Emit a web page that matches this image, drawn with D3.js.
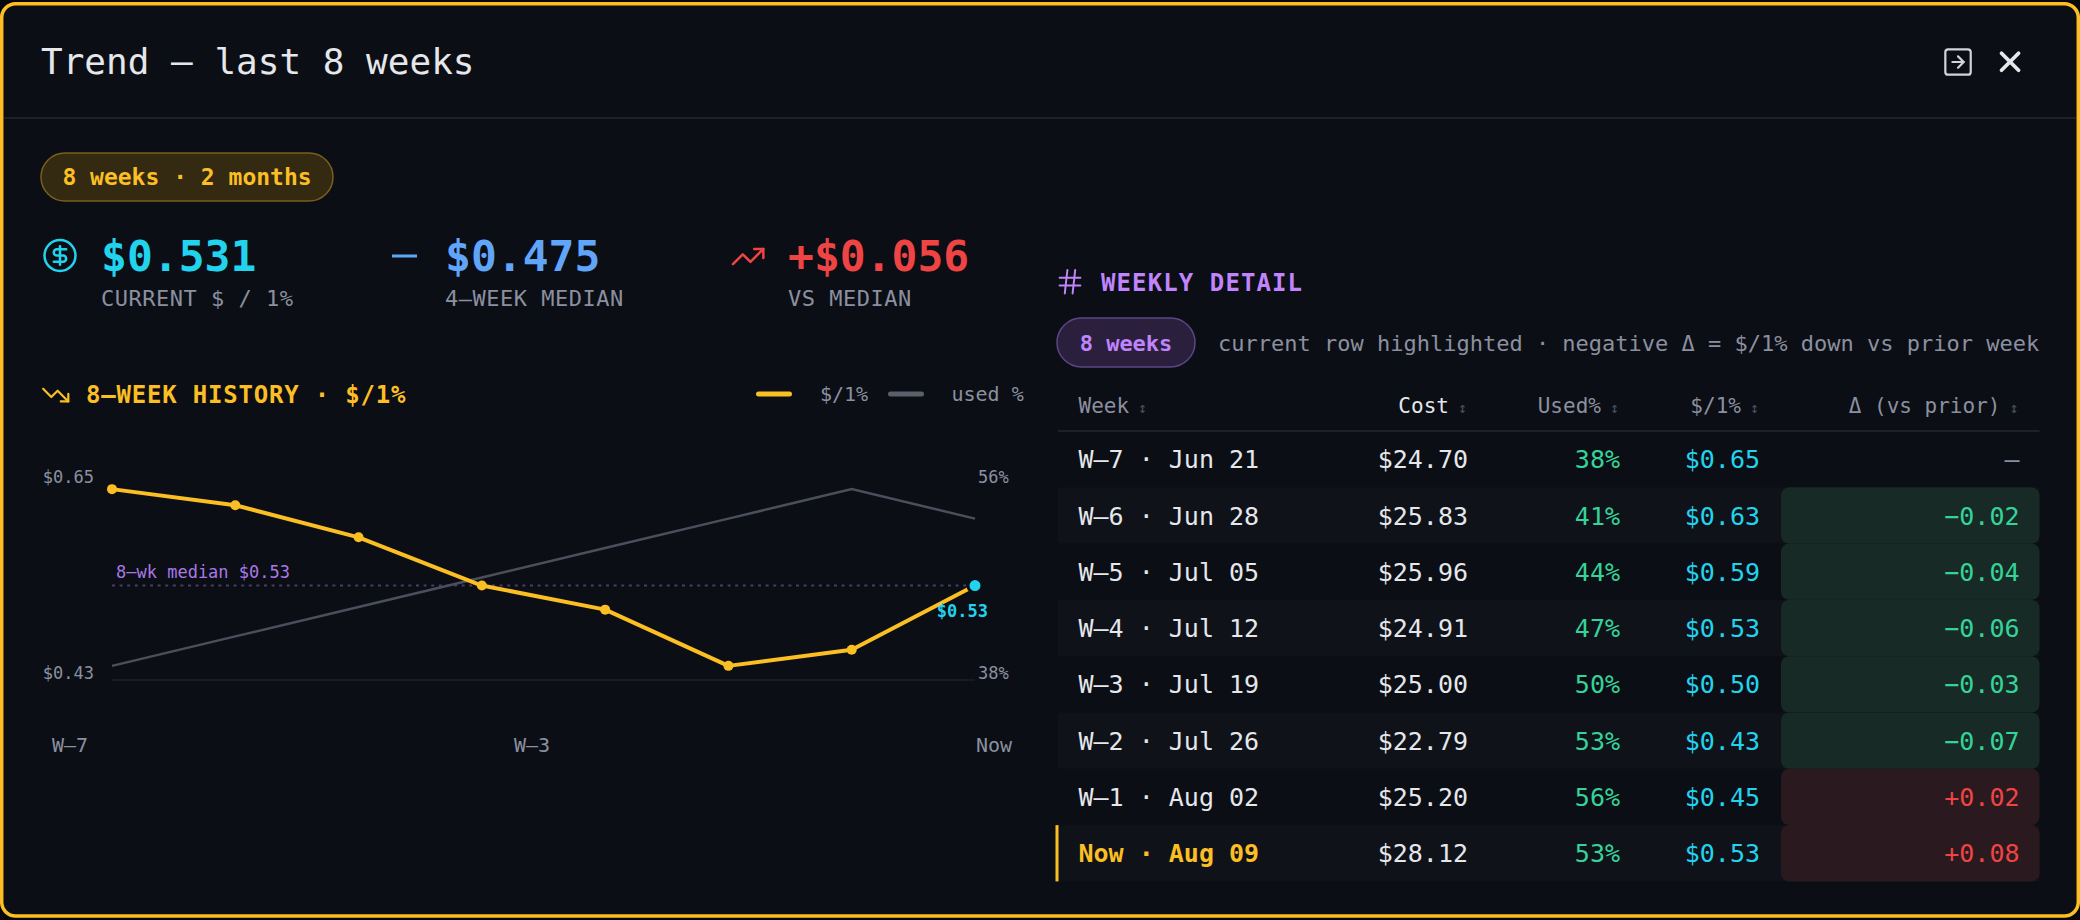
<!DOCTYPE html>
<html>
<head>
<meta charset="utf-8">
<script src="https://cdn.jsdelivr.net/npm/d3@7"></script>
<style>
  html, body { margin: 0; padding: 0; background: #05070a; }
  svg { display: block; font-family: "DejaVu Sans Mono", monospace; }
</style>
</head>
<body>
<div id="chart"></div>
<script>
// data
const weeks = ["W–7", "W–6", "W–5", "W–4", "W–3", "W–2", "W–1", "Now"];
const dates = ["Jun 21", "Jun 28", "Jul 05", "Jul 12", "Jul 19", "Jul 26", "Aug 02", "Aug 09"];
const costs = [24.70, 25.83, 25.96, 24.91, 25.00, 22.79, 25.20, 28.12];
const usedPct = [38, 41, 44, 47, 50, 53, 56, 53];
const perPct = [0.65, 0.63, 0.59, 0.53, 0.50, 0.43, 0.45, 0.53];
const deltas = [null, -0.02, -0.04, -0.06, -0.03, -0.07, 0.02, 0.08];
const xTickLabels = ["W–7", "W–3", "Now"];
const kpiValues = [0.531, 0.475, 0.056];
const kpiLabels = ["CURRENT $ / 1%", "4–WEEK MEDIAN", "VS MEDIAN"];
const headers = ["Week", "Cost", "Used%", "$/1%", "Δ (vs prior)"];

const W = 2080, H = 920;
const C = {
  bg: "#0b0e14", line: "#1d2028", text: "#e5e7eb", muted: "#8b90a0",
  yellow: "#fbbf24", cyan: "#22d3ee", blue: "#60a5fa", red: "#ef4444",
  green: "#34d399", purple: "#c084fc", gray: "#4b4f5c"
};

const svg = d3.select("#chart").append("svg")
  .attr("width", W).attr("height", H);

// text helper, y is the visual centre of capitals
function txt(g, x, y, s, o = {}) {
  const size = o.size || 20;
  return g.append("text")
    .attr("x", x).attr("y", y + size * 0.365)
    .attr("font-size", size)
    .attr("font-weight", o.weight || "normal")
    .attr("fill", o.fill || C.text)
    .attr("text-anchor", o.anchor || "start")
    .attr("letter-spacing", o.ls || 0)
    .text(s);
}

function icon(g, x, y, k, sw, color, draw) {
  const ig = g.append("g")
    .attr("transform", `translate(${x},${y}) scale(${k})`)
    .attr("fill", "none").attr("stroke", color)
    .attr("stroke-width", sw / k)
    .attr("stroke-linecap", "round").attr("stroke-linejoin", "round");
  draw(ig);
}

// card
svg.append("rect")
  .attr("x", 1.7).attr("y", 3.7).attr("width", W - 3.4).attr("height", 912.3)
  .attr("rx", 14).attr("fill", C.bg)
  .attr("stroke", C.yellow).attr("stroke-width", 3.5);

// header
txt(svg, 41, 61, "Trend — last 8 weeks", { size: 36, fill: C.text });
svg.append("line").attr("x1", 4).attr("x2", W - 4).attr("y1", 118).attr("y2", 118)
  .attr("stroke", C.line).attr("stroke-width", 2);

icon(svg, 1941.1, 45.1, 1.41, 2.2, "#d1d5db", g => {
  g.append("rect").attr("x", 3).attr("y", 3).attr("width", 18).attr("height", 18).attr("rx", 2);
  g.append("path").attr("d", "M8 12h8");
  g.append("path").attr("d", "m12 16 4-4-4-4");
});
icon(svg, 1993, 44.7, 1.42, 3.8, "#e5e7eb", g => {
  g.append("path").attr("d", "M18 6 6 18");
  g.append("path").attr("d", "m6 6 12 12");
});

// range badge
const badge = svg.append("g");
badge.append("rect").attr("x", 41).attr("y", 153).attr("width", 292).attr("height", 48)
  .attr("rx", 24).attr("fill", "#342a12").attr("stroke", "#7a5f1c").attr("stroke-width", 1.5);
txt(badge, 187, 177, "8 weeks · 2 months", { size: 23, weight: "bold", fill: C.yellow, anchor: "middle" });

// KPIs
const fmt3 = d3.format(".3f");
const kpiX = [101, 445, 788];
const kpiColor = [C.cyan, C.blue, C.red];
const kpiText = [
  "$" + fmt3(kpiValues[0]),
  "$" + fmt3(kpiValues[1]),
  "+$" + fmt3(kpiValues[2])
];
kpiValues.forEach((v, i) => {
  txt(svg, kpiX[i], 255, kpiText[i], { size: 43, weight: "bold", fill: kpiColor[i] });
  txt(svg, kpiX[i], 298, kpiLabels[i], { size: 22, fill: C.muted, ls: 0.5 });
});
icon(svg, 41.4, 236.9, 1.55, 2.5, C.cyan, g => {
  g.append("circle").attr("cx", 12).attr("cy", 12).attr("r", 10);
  g.append("path").attr("d", "M16 8h-6a2 2 0 1 0 0 4h4a2 2 0 1 1 0 4H8");
  g.append("path").attr("d", "M12 18V6");
});
svg.append("line").attr("x1", 392).attr("x2", 417).attr("y1", 256).attr("y2", 256)
  .attr("stroke", C.blue).attr("stroke-width", 3);
icon(svg, 729.9, 238.3, 1.52, 2.5, C.red, g => {
  g.append("polyline").attr("points", "22 7 13.5 15.5 8.5 10.5 2 17");
  g.append("polyline").attr("points", "16 7 22 7 22 13");
});

// ---------- history chart ----------
const ch = svg.append("g");
icon(ch, 40.6, 380, 1.26, 2.2, C.yellow, g => {
  g.append("polyline").attr("points", "22 17 13.5 8.5 8.5 13.5 2 7");
  g.append("polyline").attr("points", "16 17 22 17 22 11");
});
txt(ch, 86, 394, "8–WEEK HISTORY · $/1%", { size: 24, weight: "bold", fill: C.yellow, ls: 0.8 });

// legend
ch.append("line").attr("x1", 758.5).attr("x2", 789.5).attr("y1", 394).attr("y2", 394)
  .attr("stroke", C.yellow).attr("stroke-width", 5).attr("stroke-linecap", "round");
txt(ch, 820, 394, "$/1%", { size: 20, fill: C.muted });
ch.append("line").attr("x1", 890.5).attr("x2", 921.5).attr("y1", 394).attr("y2", 394)
  .attr("stroke", "#5b5f6b").attr("stroke-width", 5).attr("stroke-linecap", "round");
txt(ch, 951.5, 394, "used %", { size: 20, fill: C.muted });

const idx = d3.range(weeks.length);
const x = d3.scalePoint().domain(idx).range([112, 975]);
const pExt = d3.extent(perPct), uExt = d3.extent(usedPct);
const pPad = (pExt[1] - pExt[0]) * 0.08, uPad = (uExt[1] - uExt[0]) * 0.08;
const y = d3.scaleLinear().domain([pExt[0] - pPad, pExt[1] + pPad]).range([680, 475]);
const yU = d3.scaleLinear().domain([uExt[0] - uPad, uExt[1] + uPad]).range([680, 475]);

// baseline grid
ch.append("line").attr("x1", x.range()[0]).attr("x2", x.range()[1])
  .attr("y1", y.range()[0]).attr("y2", y.range()[0])
  .attr("stroke", C.line).attr("stroke-width", 1.5);

// axis labels (min / max)
const fmt2 = d3.format(".2f");
txt(ch, 94, y.range()[1] + 2, "$" + fmt2(pExt[1]), { size: 17, fill: C.muted, anchor: "end" });
txt(ch, 94, y.range()[0] - 7, "$" + fmt2(pExt[0]), { size: 17, fill: C.muted, anchor: "end" });
txt(ch, 978, y.range()[1] + 2, uExt[1] + "%", { size: 17, fill: C.muted });
txt(ch, 978, y.range()[0] - 7, uExt[0] + "%", { size: 17, fill: C.muted });

const xt = d3.scalePoint().domain(xTickLabels).range([52, 1012]);
xTickLabels.forEach((l, i) => {
  txt(ch, xt(l), 745, l, { size: 20, fill: C.muted,
    anchor: i === 0 ? "start" : (i === xTickLabels.length - 1 ? "end" : "middle") });
});

// median reference
const med = d3.median(perPct);
ch.append("line").attr("x1", x.range()[0]).attr("x2", x.range()[1])
  .attr("y1", y(med)).attr("y2", y(med))
  .attr("stroke", "#4a3a66").attr("stroke-width", 2).attr("stroke-dasharray", "3 4.6");
txt(ch, 116, 572, "8–wk median $" + fmt2(med), { size: 17, fill: "#a978e6" });

// used % line
ch.append("path").datum(idx)
  .attr("fill", "none").attr("stroke", "#4b4f5c").attr("stroke-width", 2.5)
  .attr("d", d3.line().x(i => x(i)).y(i => yU(usedPct[i])));

// $/1% line
ch.append("path").datum(idx)
  .attr("fill", "none").attr("stroke", C.yellow).attr("stroke-width", 4)
  .attr("stroke-linejoin", "round")
  .attr("d", d3.line().x(i => x(i)).y(i => y(perPct[i])));

const last = idx.length - 1;
ch.selectAll(".pt").data(idx.slice(0, last)).join("circle")
  .attr("class", "pt")
  .attr("cx", i => x(i)).attr("cy", i => y(perPct[i]))
  .attr("r", 5).attr("fill", C.yellow);
ch.append("circle").attr("cx", x(last)).attr("cy", y(perPct[last]))
  .attr("r", 7).attr("fill", C.cyan).attr("stroke", C.bg).attr("stroke-width", 3);
txt(ch, 988, 611, "$" + fmt2(perPct[last]), { size: 17, weight: "bold", fill: C.cyan, anchor: "end" });

// ---------- weekly detail table ----------
const tb = svg.append("g");
icon(tb, 1054.4, 266.1, 1.3, 2, C.purple, g => {
  g.append("line").attr("x1", 4).attr("x2", 20).attr("y1", 9).attr("y2", 9);
  g.append("line").attr("x1", 4).attr("x2", 20).attr("y1", 15).attr("y2", 15);
  g.append("line").attr("x1", 10).attr("x2", 8).attr("y1", 3).attr("y2", 21);
  g.append("line").attr("x1", 16).attr("x2", 14).attr("y1", 3).attr("y2", 21);
});
txt(tb, 1101, 282, "WEEKLY DETAIL", { size: 24, weight: "bold", fill: C.purple, ls: 1.1 });

tb.append("rect").attr("x", 1057).attr("y", 318).attr("width", 138).attr("height", 49)
  .attr("rx", 24.5).attr("fill", "#2a1f3d").attr("stroke", "#5b4785").attr("stroke-width", 1.5);
txt(tb, 1126, 343, weeks.length + " weeks", { size: 22, weight: "bold", fill: C.purple, anchor: "middle" });
txt(tb, 1218, 343, "current row highlighted · negative Δ = $/1% down vs prior week",
  { size: 22, fill: C.muted });

const tableL = 1058, tableR = 2039.5;
const colRight = [null, 1468, 1620, 1760, 2019.5];

headers.forEach((h, i) => {
  const t = txt(tb, i === 0 ? 1078.5 : colRight[i] - 1, 405, h,
    { size: 21, fill: i === 1 ? C.text : C.muted, anchor: i === 0 ? "start" : "end" });
  t.append("tspan").attr("font-size", 15).attr("fill", "#4b5060").text(" ↕");
});
tb.append("line").attr("x1", tableL).attr("x2", tableR).attr("y1", 431).attr("y2", 431)
  .attr("stroke", C.line).attr("stroke-width", 2);

const rows = weeks.map((w, i) => ({
  i, week: w, date: dates[i], cost: costs[i], used: usedPct[i], per: perPct[i], delta: deltas[i]
}));
const ry = d3.scaleBand().domain(idx).range([431, 881.4]);
const dFmt = d3.format("+.2f");

const rg = tb.selectAll(".row").data(rows).join("g")
  .attr("class", "row")
  .attr("transform", d => `translate(0,${ry(d.i)})`);
const bh = ry.bandwidth();

rg.filter(d => d.i % 2 === 1).append("rect")
  .attr("x", tableL).attr("width", tableR - tableL).attr("height", bh)
  .attr("fill", "#0f1219");
rg.filter(d => d.delta !== null).append("rect")
  .attr("x", 1781).attr("width", tableR - 1781).attr("height", bh).attr("rx", 8)
  .attr("fill", d => d.delta < 0 ? "#172a25" : "#2a1a1f");
rg.filter(d => d.i === last).append("rect")
  .attr("x", 1055.5).attr("width", 3).attr("height", bh).attr("fill", C.yellow);

rg.each(function (d) {
  const g = d3.select(this);
  const cy = bh / 2;
  const cur = d.i === last;
  txt(g, 1078.5, cy, d.week + " · " + d.date,
    { size: 25, fill: cur ? C.yellow : C.text, weight: cur ? "bold" : "normal" });
  txt(g, colRight[1], cy, "$" + fmt2(d.cost), { size: 25, fill: C.text, anchor: "end" });
  txt(g, colRight[2], cy, d.used + "%", { size: 25, fill: C.green, anchor: "end" });
  txt(g, colRight[3], cy, "$" + fmt2(d.per), { size: 25, fill: C.cyan, anchor: "end" });
  if (d.delta === null) {
    txt(g, colRight[4], cy, "–", { size: 25, fill: C.muted, anchor: "end" });
  } else {
    txt(g, colRight[4], cy, dFmt(d.delta),
      { size: 25, fill: d.delta < 0 ? C.green : C.red, anchor: "end" });
  }
});
</script>
</body>
</html>
